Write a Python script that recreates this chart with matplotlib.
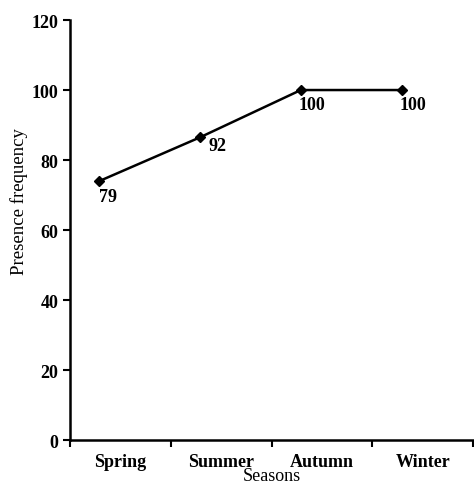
import matplotlib.pyplot as plt
import numpy as np

seasons = ['Spring', 'Summer', 'Autumn', 'Winter']
plotted = [74, 86.5, 100, 100]
labels = ['79', '92', '100', '100']

plt.rcParams['font.family'] = 'Liberation Serif'

fig = plt.figure(figsize=(4.74, 4.89), dpi=100)
ax = fig.add_axes([0.148, 0.098, 0.85, 0.859])

x = np.arange(len(seasons)) + 0.29
ax.plot(x, plotted, color='black', lw=1.8, marker='D', markersize=5.5)

# value labels
offsets = [(6, -11), (6, -6), (8, -10.5), (8, -10.5)]
for xi, yi, lab, off in zip(x, plotted, labels, offsets):
    ax.annotate(lab, (xi, yi), xytext=off, textcoords='offset points',
                ha='center' if lab != '92' else 'left', va='center',
                fontsize=13, fontweight='bold')

ax.set_xlim(0, 4)
ax.set_ylim(0, 120)
ax.set_yticks(range(0, 121, 20))
ax.set_xticks(range(0, 5))
ax.set_xticklabels([])
ax.set_xticks(np.arange(len(seasons)) + 0.5, minor=True)
ax.set_xticklabels(seasons, minor=True, fontsize=13, fontweight='bold')
ax.tick_params(axis='x', which='minor', length=0, pad=9)
ax.tick_params(axis='x', which='major', length=5, width=1.5, direction='out')
ax.tick_params(axis='y', length=5, width=1.5, direction='out', labelsize=13)
for t in ax.get_yticklabels():
    t.set_fontweight('bold')

ax.spines['top'].set_visible(False)
ax.spines['right'].set_visible(False)
ax.spines['left'].set_linewidth(1.8)
ax.spines['bottom'].set_linewidth(1.8)

ax.set_xlabel('Seasons', fontsize=13, labelpad=-2)
ax.set_ylabel('Presence frequency', fontsize=13.5, labelpad=4)
ax.yaxis.set_label_coords(-0.105, 0.57)

fig.savefig('out.png', dpi=100)
